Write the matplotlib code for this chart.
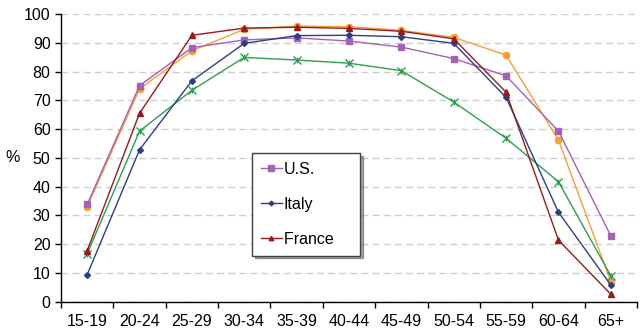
import matplotlib
matplotlib.use("Agg")
from matplotlib import pyplot as plt
import numpy as np

plt.rcParams['font.family'] = ['Liberation Sans', 'DejaVu Sans']

ages = ['15-19', '20-24', '25-29', '30-34', '35-39', '40-44',
        '45-49', '50-54', '55-59', '60-64', '65+']

us = [33.8, 75.1, 88.3, 91.0, 91.7, 90.6, 88.5, 84.5, 78.5, 59.3, 22.9]
italy = [9.4, 52.8, 76.8, 89.8, 92.5, 92.6, 92.1, 89.8, 71.0, 31.1, 5.8]
france = [17.7, 65.5, 92.6, 95.1, 95.4, 95.0, 94.0, 91.4, 72.8, 21.4, 2.6]
green = [16.6, 59.3, 73.5, 84.9, 84.0, 82.9, 80.3, 69.4, 56.8, 41.7, 9.0]
orange = [33.0, 74.0, 87.2, 94.7, 95.8, 95.6, 94.3, 91.9, 85.7, 56.2, 7.0]

x = np.arange(len(ages))

fig = plt.figure(figsize=(6.44, 3.36), dpi=100)
ax = fig.add_axes([61 / 644, 34.3 / 336, 576 / 644, 287.7 / 336])

ax.plot(x, orange, color='#F7A033', lw=1, marker='o', ms=4.5, zorder=3)
ax.plot(x, green, color='#2E9E4F', lw=1, marker='x', ms=6, mew=1, zorder=3)
ax.plot(x, green, ls='none', color='#2E9E4F', marker='|', ms=5, mew=0.8, zorder=3)
ax.plot(x, us, color='#A561B5', lw=1, marker='s', ms=5, label='U.S.', zorder=4)
ax.plot(x, italy, color='#2B3F87', lw=1, marker='D', ms=3, label='Italy', zorder=4)
ax.plot(x, france, color='#951B1E', lw=1, marker='^', ms=4, label='France', zorder=4)

ax.set_xlim(-0.5, len(ages) - 0.5)
ax.set_ylim(0, 100)
ax.set_yticks(np.arange(0, 101, 10))
ax.set_xticks(x)
ax.set_xticklabels(ages)
ax.set_xticks(np.arange(-0.5, len(ages)), minor=True)
ax.tick_params(axis='x', which='major', length=0, pad=9, labelsize=11.5)
ax.tick_params(axis='x', which='minor', length=4, width=1, direction='out')
ax.tick_params(axis='y', length=4, width=1, labelsize=11.5)

ax.yaxis.grid(True, ls=(0, (5, 3)), color='#CFCFCF', lw=1)
ax.set_axisbelow(True)
for s in ['top', 'right']:
    ax.spines[s].set_visible(False)
for s in ['left', 'bottom']:
    ax.spines[s].set_color('black')
    ax.spines[s].set_linewidth(1)

ax.set_ylabel('%', rotation=0, fontsize=11.5, labelpad=8, va='center')

# trailing spaces widen the legend box a little on the right
handles, labels = ax.get_legend_handles_labels()
labels = [lab + '    ' if lab == 'France' else lab for lab in labels]
leg = ax.legend(handles, labels, loc='upper left',
                bbox_to_anchor=(191 / 576, 1 - 139 / 287.7),
                frameon=True, fancybox=False, shadow=True, fontsize=11.5,
                labelspacing=1.25, handlelength=1.3, handletextpad=0.15,
                borderpad=0.55, borderaxespad=0, markerscale=0.8)
leg.get_frame().set_edgecolor('#404040')
leg.get_frame().set_linewidth(1)

fig.savefig('out.png', dpi=100)
